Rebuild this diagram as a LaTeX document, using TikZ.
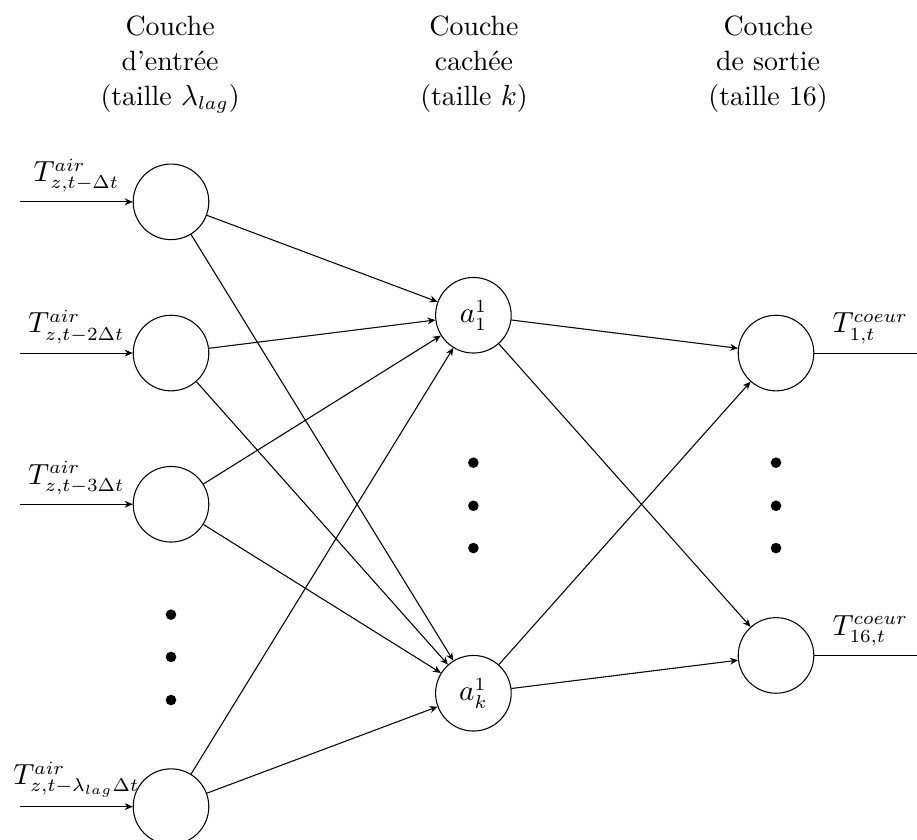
\documentclass[tikz,border=0pt]{standalone}
\usepackage{amsmath}
\usetikzlibrary{arrows.meta}
\begin{document}
\begin{tikzpicture}[
  font=\fontsize{10.5}{13.2}\selectfont,
  neuron/.style={circle,draw,minimum size=1cm,inner sep=0pt},
  bigdot/.style={circle,fill,inner sep=0pt,minimum size=0.14cm},
  conn/.style={-{Stealth[length=3pt,width=2.6pt]}},
  title/.style={align=center}
]
\useasboundingbox (0,0) rectangle (12.13,-11.11);

% titles
\node[title] (t1) at (2.25,-0.85) {Couche\\d'entrée\\(taille $\lambda_{lag}$)};
\node[title] (t2) at (6.27,-0.85) {Couche\\cachée\\(taille $k$)};
\node[title] (t3) at (10.16,-0.85) {Couche\\de sortie\\(taille 16)};

% input layer
\node[neuron] (i1) at (2.262,-2.67) {};
\node[neuron] (i2) at (2.262,-4.67) {};
\node[neuron] (i3) at (2.262,-6.67) {};
\node[neuron] (i4) at (2.262,-10.67) {};
\node[bigdot] (id1) at (2.262,-8.13) {};
\node[bigdot] (id2) at (2.262,-8.69) {};
\node[bigdot] (id3) at (2.262,-9.26) {};

% hidden layer
\node[neuron] (h1) at (6.262,-4.17) {$a_1^1$};
\node[neuron] (h2) at (6.262,-9.17) {$a_k^1$};
\node[bigdot] (hd1) at (6.262,-6.12) {};
\node[bigdot] (hd2) at (6.262,-6.69) {};
\node[bigdot] (hd3) at (6.262,-7.25) {};

% output layer
\node[neuron] (o1) at (10.265,-4.67) {};
\node[neuron] (o2) at (10.265,-8.67) {};
\node[bigdot] (od1) at (10.265,-6.12) {};
\node[bigdot] (od2) at (10.265,-6.69) {};
\node[bigdot] (od3) at (10.265,-7.25) {};

% inputs
\coordinate (s1) at (0.265,-2.67);
\coordinate (s2) at (0.265,-4.67);
\coordinate (s3) at (0.265,-6.67);
\coordinate (s4) at (0.265,-10.67);
\draw[conn] (s1) -- (i1) node[midway,above] {$T^{air}_{z,t-\Delta t}$};
\draw[conn] (s2) -- (i2) node[midway,above] {$T^{air}_{z,t-2\Delta t}$};
\draw[conn] (s3) -- (i3) node[midway,above] {$T^{air}_{z,t-3\Delta t}$};
\draw[conn] (s4) -- (i4) node[midway,above] {$T^{air}_{z,t-\lambda_{lag}\Delta t}$};

% outputs
\coordinate (e1) at (12.25,-4.67);
\coordinate (e2) at (12.25,-8.67);
\draw (o1) -- (e1) node[midway,above] {$T^{coeur}_{1,t}$};
\draw (o2) -- (e2) node[midway,above] {$T^{coeur}_{16,t}$};

% connections
\foreach \i in {i1,i2,i3,i4} {
  \foreach \h in {h1,h2} {
    \draw[conn] (\i) -- (\h);
  }
}
\foreach \h in {h1,h2} {
  \foreach \o in {o1,o2} {
    \draw[conn] (\h) -- (\o);
  }
}
\end{tikzpicture}
\end{document}
